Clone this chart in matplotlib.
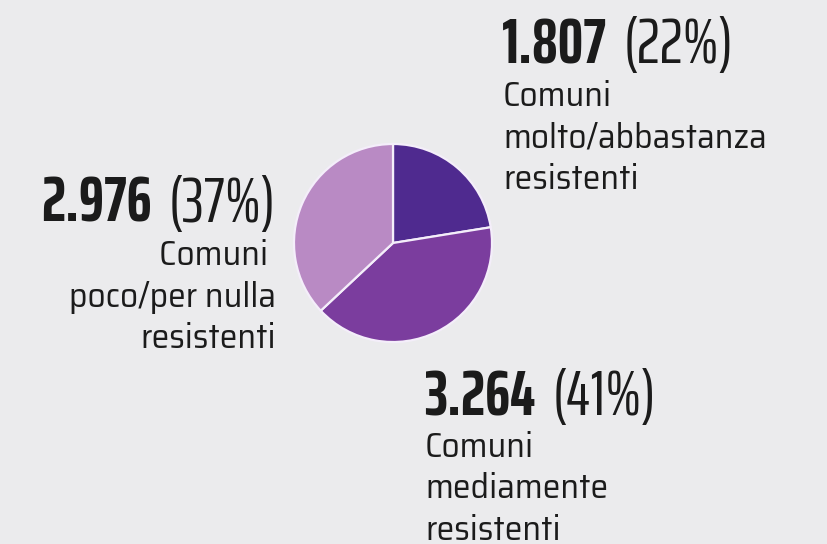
import matplotlib
matplotlib.use("Agg")
from matplotlib import pyplot as plt

# data
counts = [1807, 3264, 2976]
count_labels = ['1.807', '3.264', '2.976']
pct_labels = ['(22%)', '(41%)', '(37%)']
descs = ['Comuni\nmolto/abbastanza\nresistenti',
         'Comuni\nmediamente\nresistenti',
         'Comuni \npoco/per nulla\nresistenti']
colors = ['#4f2a8f', '#7b3d9e', '#b98ac4']

W, H = 828, 544
bg = '#ebebed'
ink = '#1b1b1b'
head_fam = ['Saira ExtraCondensed', 'DejaVu Sans']
body_fam = ['Saira SemiCondensed', 'DejaVu Sans']

fig = plt.figure(figsize=(W / 100, H / 100), dpi=100, facecolor=bg)

# pie, centre and radius in pixels
cx, cy, r = 393, 243, 101
ax = fig.add_axes([(cx - r) / W, 1 - (cy + r) / H, 2 * r / W, 2 * r / H])
ax.pie(counts, colors=colors, startangle=90, counterclock=False,
       wedgeprops=dict(edgecolor='#f4eefa', linewidth=1.6))
ax.set_xlim(-1.02, 1.02)
ax.set_ylim(-1.02, 1.02)
ax.set_facecolor(bg)
ax.axis('off')

renderer = fig.canvas.get_renderer()
HS = 46
GAP = 17


def px(x, y):
    return x / W, 1 - y / H


def headline(i, x, y, align):
    # bold number plus lighter percentage, laid out side by side
    if align == 'left':
        t1 = fig.text(*px(x, y), count_labels[i], fontsize=HS, fontweight='bold',
                      family=head_fam, color=ink, ha='left', va='baseline')
        bb = t1.get_window_extent(renderer)
        fig.text((bb.x1 + GAP) / W, 1 - y / H, pct_labels[i], fontsize=HS,
                 fontweight='normal', family=head_fam, color=ink,
                 ha='left', va='baseline')
    else:
        t2 = fig.text(*px(x, y), pct_labels[i], fontsize=HS, fontweight='normal',
                      family=head_fam, color=ink, ha='right', va='baseline')
        bb = t2.get_window_extent(renderer)
        fig.text((bb.x0 - GAP) / W, 1 - y / H, count_labels[i], fontsize=HS,
                 fontweight='bold', family=head_fam, color=ink,
                 ha='right', va='baseline')


def body(i, x, y, align):
    for k, line in enumerate(descs[i].split('\n')):
        fig.text(*px(x, y + k * 41.5), line, fontsize=25.5, fontweight='normal',
                 family=body_fam, color=ink, ha=align, va='baseline')


headline(0, 502, 63, 'left')
body(0, 503, 106, 'left')

headline(1, 424, 415, 'left')
body(1, 425, 457, 'left')

headline(2, 276, 222, 'right')
body(2, 276, 265, 'right')

fig.savefig('out.png', dpi=100, facecolor=bg)
